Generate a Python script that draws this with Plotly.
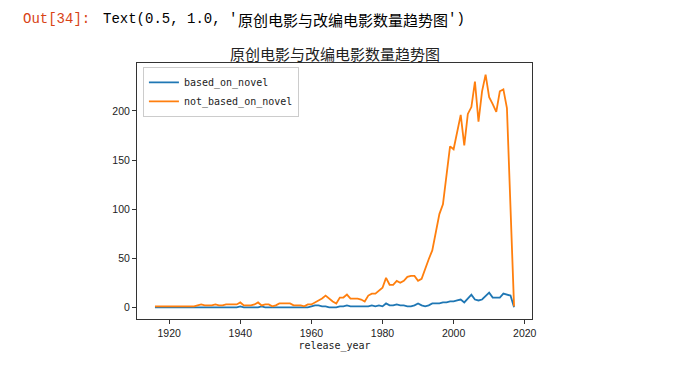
import plotly.graph_objects as go

years = list(range(1916, 2018))

based_on_novel = [
    0, 0, 0, 0, 0, 0, 0, 0, 0, 0,   # 1916-1925
    0, 0, 0, 0, 0, 0, 0, 0, 0, 0,   # 1926-1935
    0, 0, 0, 0, 1, 0, 0, 0, 0, 0,   # 1936-1945
    1, 0, 0, 0, 0, 0, 0, 0, 0, 0,   # 1946-1955
    0, 0, 0, 0, 1, 2, 2, 1, 1, 0,   # 1956-1965
    0, 0, 1, 1, 2, 1, 1, 1, 1, 1,   # 1966-1975
    1, 2, 1, 2, 1, 4, 2, 2, 3, 2,   # 1976-1985
    2, 1, 1, 2, 4, 2, 1, 2, 4, 4,   # 1986-1995
    4, 5, 5, 6, 6, 7, 8, 5, 9, 13,  # 1996-2005
    8, 7, 8, 11, 15, 10, 10, 10, 14, 13,  # 2006-2015
    12, 0,                          # 2016-2017
]

not_based_on_novel = [
    1, 1, 1, 1, 1, 1, 1, 1, 1, 1,   # 1916-1925
    1, 1, 2, 3, 2, 2, 2, 3, 2, 2,   # 1926-1935
    3, 3, 3, 3, 5, 2, 2, 2, 3, 5,   # 1936-1945
    2, 3, 3, 1, 2, 4, 4, 4, 4, 2,   # 1946-1955
    2, 2, 1, 3, 3, 5, 7, 9, 12, 9,  # 1956-1965
    6, 4, 10, 10, 13, 9, 9, 9, 8, 6,  # 1966-1975
    12, 14, 14, 17, 20, 30, 23, 23, 27, 25,  # 1976-1985
    27, 31, 32, 32, 27, 29, 40, 49, 58, 75,  # 1986-1995
    95, 105, 133, 164, 161, 178, 196, 165, 197, 204,  # 1996-2005
    230, 189, 220, 237, 214, 207, 199, 220, 222, 203,  # 2006-2015
    97, 1,                          # 2016-2017
]

x_ticks = [1920, 1940, 1960, 1980, 2000, 2020]
y_ticks = [0, 50, 100, 150, 200]

title_text = "原创电影与改编电影数量趋势图"
x_label = "release_year"

fig = go.Figure()
fig.add_trace(go.Scatter(x=years, y=based_on_novel, mode="lines", name="based_on_novel",
                         line=dict(color="#1f77b4", width=1.8)))
fig.add_trace(go.Scatter(x=years, y=not_based_on_novel, mode="lines", name="not_based_on_novel",
                         line=dict(color="#ff7f0e", width=1.8)))

# the page body has an 8px margin, so work in figure coordinates = screen - 8
OFF = 8
W, H = 692 - OFF, 365 - OFF
L, T = 137 - OFF, 63 - OFF
PW, PH = 395, 256
R = W - L - PW
B = H - T - PH

def px(x):
    return (x - OFF - L) / PW

def py(y):
    return (T + PH - (y - OFF)) / PH

axis_common = dict(showline=True, mirror=True, linecolor="#333333", linewidth=1,
                   ticks="outside", ticklen=4, tickcolor="#333333", showgrid=False,
                   zeroline=False, tickfont=dict(family="Liberation Sans", size=10.5, color="#222222"))

TOP_Y = 19

fig.update_layout(
    width=W, height=H,
    margin=dict(l=L, r=R, t=T, b=B, autoexpand=False),
    paper_bgcolor="white", plot_bgcolor="white",
    showlegend=True,
    legend=dict(x=0.015, y=0.985, xanchor="left", yanchor="top",
                bordercolor="#cccccc", borderwidth=1, bgcolor="rgba(255,255,255,0.8)",
                font=dict(family="DejaVu Sans Mono", size=10, color="#222222"),
                itemwidth=30),
    xaxis=dict(range=[1910.95, 2022.05], tickvals=x_ticks,
               title=dict(text=x_label, standoff=4,
                          font=dict(family="DejaVu Sans Mono", size=10, color="#222222")),
               **axis_common),
    yaxis=dict(range=[-11.85, 248.85], tickvals=y_ticks, **axis_common),
    annotations=[
        dict(text=title_text, x=0.5, y=py(53), xref="paper", yref="paper",
             xanchor="center", yanchor="middle", showarrow=False,
             font=dict(family="Noto Sans CJK SC", size=15, color="#222222")),
        dict(text="Out[34]:", x=px(21), y=py(TOP_Y), xref="paper", yref="paper",
             xanchor="left", yanchor="middle", showarrow=False,
             font=dict(family="Liberation Mono", size=14, color="#D84315")),
        dict(text="Text(0.5, 1.0, '", x=px(101), y=py(TOP_Y), xref="paper", yref="paper",
             xanchor="left", yanchor="middle", showarrow=False,
             font=dict(family="Liberation Mono", size=14, color="#000000")),
        dict(text=title_text, x=px(236), y=py(TOP_Y), xref="paper", yref="paper",
             xanchor="left", yanchor="middle", showarrow=False,
             font=dict(family="Noto Sans CJK SC", size=15, color="#000000")),
        dict(text="')", x=px(446), y=py(TOP_Y), xref="paper", yref="paper",
             xanchor="left", yanchor="middle", showarrow=False,
             font=dict(family="Liberation Mono", size=14, color="#000000")),
    ],
)

fig.write_html("out.html")
